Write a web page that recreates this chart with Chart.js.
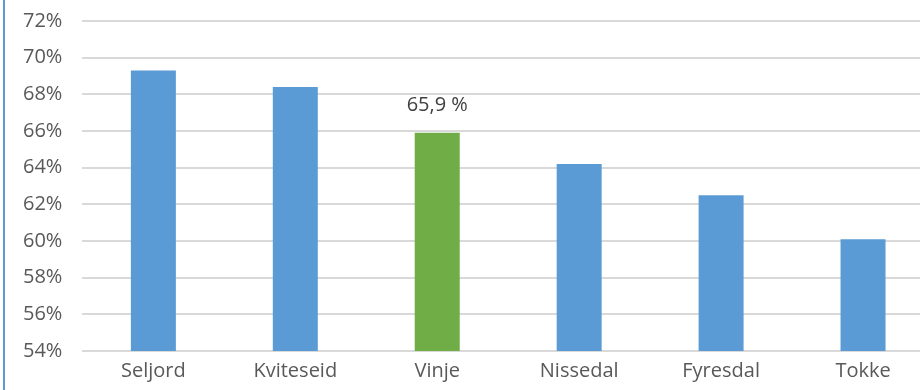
<!DOCTYPE html>
<html>
<head>
<meta charset="utf-8">
<script src="https://cdn.jsdelivr.net/npm/chart.js@4/dist/chart.umd.min.js"></script>
<style>
  html, body { margin: 0; padding: 0; background: #fff; overflow: hidden; }
  #wrap { position: absolute; left: 0; top: -11px; width: 934px; height: 399px; }
  #edge { position: absolute; left: 3px; top: 0; width: 2px; height: 390px; background: #5b9bd5; }
</style>
</head>
<body>
<div id="wrap"><canvas id="chart"></canvas></div>
<div id="edge"></div>
<script>
const kommuner = ['Seljord', 'Kviteseid', 'Vinje', 'Nissedal', 'Fyresdal', 'Tokke']
const andel = [69.3, 68.4, 65.9, 64.2, 62.5, 60.1]
const farger = ['#5b9bd5', '#5b9bd5', '#70ad47', '#5b9bd5', '#5b9bd5', '#5b9bd5']
const merket = 'Vinje'

const font = "'Open Sans', sans-serif"

const verdiEtikett = {
    id: 'verdiEtikett',
    afterDatasetsDraw(chart) {
        const ctx = chart.ctx
        const meta = chart.getDatasetMeta(0)
        const i = kommuner.indexOf(merket)
        const bar = meta.data[i]
        ctx.save()
        ctx.font = `20px ${font}`
        ctx.fillStyle = '#404040'
        ctx.textAlign = 'center'
        ctx.textBaseline = 'middle'
        ctx.fillText(andel[i].toFixed(1).replace('.', ',') + ' %', bar.x, bar.y - 28)
        ctx.restore()
    }
}

new Chart(document.getElementById('chart'), {
    type: 'bar',
    data: {
        labels: kommuner,
        datasets: [{
            data: andel,
            backgroundColor: farger,
            barPercentage: 0.317,
            categoryPercentage: 1
        }]
    },
    options: {
        responsive: true,
        maintainAspectRatio: false,
        animation: false,
        layout: { padding: { top: 0, bottom: 5, left: 3, right: 0 } },
        plugins: { legend: { display: false }, tooltip: { enabled: false } },
        scales: {
            x: {
                grid: { display: false },
                border: { display: false },
                ticks: { color: '#595959', font: { family: font, size: 20 }, padding: 0 }
            },
            y: {
                min: 54,
                max: 72,
                ticks: {
                    stepSize: 2,
                    color: '#595959',
                    font: { family: font, size: 20 },
                    padding: 20,
                    callback: v => v + '%'
                },
                grid: { color: '#d9d9d9', lineWidth: 2, drawTicks: false },
                border: { display: false }
            }
        }
    },
    plugins: [verdiEtikett]
})
</script>
</body>
</html>
